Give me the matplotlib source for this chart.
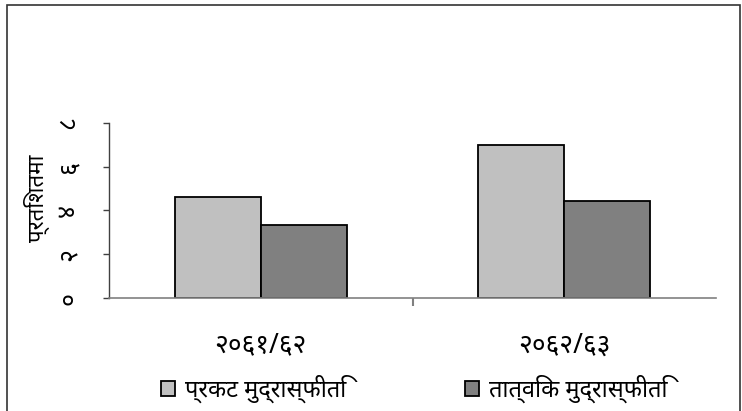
import numpy as np
import matplotlib.pyplot as plt
from matplotlib.patches import Rectangle, Patch

plt.rcParams['font.family'] = ['Noto Sans', 'DejaVu Sans']

years = ['२०६१/६२', '२०६२/६३']
series_names = ['प्रकट मुद्रास्फीति', 'तात्विक मुद्रास्फीति']
headline = [4.63, 6.99]
core = [3.33, 4.44]
yticks = [0, 2, 4, 6, 8]
ytick_labels = ['०', '२', '४', '६', '८']
ylabel = 'प्रतिशतमा'
colors = ['#C0C0C0', '#808080']

W, H = 742, 411
fig = plt.figure(figsize=(W / 100, H / 100), dpi=100)

# outer border of the chart area (bottom is cut off in the original)
fig.patches.append(Rectangle((7 / W, -0.05), (740 - 7) / W, 1.05 - 5 / H,
                             transform=fig.transFigure, fill=False,
                             edgecolor='#333333', linewidth=1.2))

ax = fig.add_axes([109 / W, 1 - 298 / H, 607 / W, 175 / H])
x = np.arange(len(years))
bw = 0.284
ax.bar(x - bw / 2, headline, bw, color=colors[0], edgecolor='black', linewidth=1.3)
ax.bar(x + bw / 2, core, bw, color=colors[1], edgecolor='black', linewidth=1.3)

ax.set_xlim(-0.5, 1.5)
ax.set_ylim(0, 8)
for s in ['top', 'right']:
    ax.spines[s].set_visible(False)
ax.spines['left'].set_color('#404040')
ax.spines['bottom'].set_color('#808080')
ax.spines['left'].set_linewidth(1)
ax.spines['bottom'].set_linewidth(1.2)

ax.set_yticks(yticks)
ax.set_yticklabels(ytick_labels, rotation=90, va='center', fontsize=18)
ax.tick_params(axis='y', length=4, width=1, color='#404040', pad=16)

ax.set_xticks(x)
ax.set_xticklabels(years, fontsize=19)
ax.tick_params(axis='x', length=0, pad=24)
ax.set_xticks([0.5], minor=True)
ax.tick_params(axis='x', which='minor', length=6, width=1.5, color='#808080')

fig.text(37 / W, 1 - 198 / H, ylabel, rotation=90, ha='center', va='center', fontsize=16)

# legend entries
for i, (name, xpos) in enumerate(zip(series_names, [161, 465])):
    h = Patch(facecolor=colors[i], edgecolor='black', linewidth=1.3)
    fig.legend(handles=[h], labels=[name], loc='center left',
               bbox_to_anchor=(xpos / W, 1 - 389 / H), frameon=False,
               fontsize=17, handlelength=0.6, handleheight=0.6,
               handletextpad=0.4, borderpad=0, borderaxespad=0)

fig.savefig('out.png', dpi=100)
